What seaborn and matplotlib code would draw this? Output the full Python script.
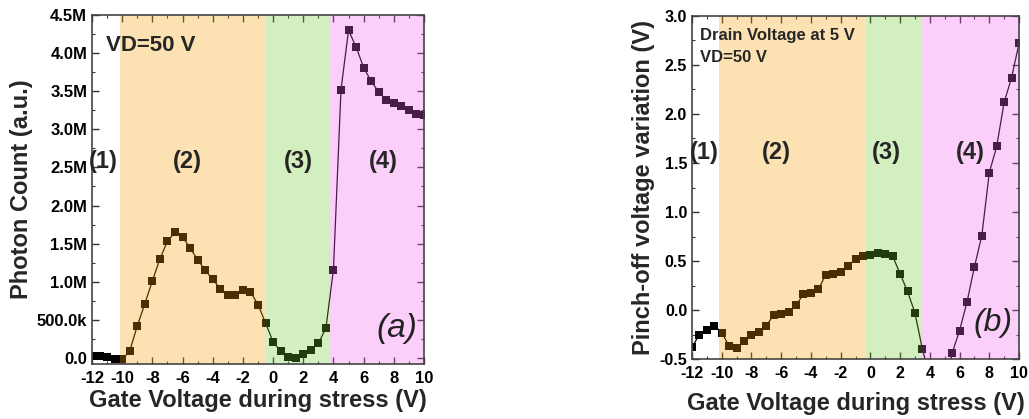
import numpy as np
import pandas as pd
import matplotlib
matplotlib.use('Agg')
import matplotlib.pyplot as plt
import seaborn as sns
from matplotlib.ticker import MultipleLocator, FuncFormatter

# ---------------- data ----------------
gate_v = [-12, -11.5, -11, -10.5, -10, -9.5, -9, -8.5, -8, -7.5, -7, -6.5, -6, -5.5,
          -5, -4.5, -4, -3.5, -3, -2.5, -2, -1.5, -1, -0.5, 0, 0.5, 1, 1.5, 2, 2.5,
          3, 3.5, 4, 4.5, 5, 5.5, 6, 6.5, 7, 7.5, 8, 8.5, 9, 9.5, 10]

photon_m = [0.03, 0.02, 0.01, -0.01, -0.02, 0.09, 0.42, 0.71, 1.01, 1.30, 1.53, 1.65,
            1.59, 1.44, 1.29, 1.15, 1.03, 0.91, 0.83, 0.83, 0.89, 0.87, 0.70, 0.46,
            0.21, 0.09, 0.01, 0.00, 0.05, 0.10, 0.19, 0.39, 1.16, 3.52, 4.30, 4.08,
            3.81, 3.63, 3.49, 3.38, 3.34, 3.30, 3.25, 3.20, 3.19]

pinchoff = [-0.38, -0.25, -0.20, -0.16, -0.23, -0.37, -0.39, -0.32, -0.25, -0.22,
            -0.16, -0.05, -0.04, -0.02, 0.05, 0.16, 0.17, 0.21, 0.36, 0.37, 0.39,
            0.45, 0.52, 0.55, 0.56, 0.58, 0.57, 0.55, 0.37, 0.19, -0.03, -0.40,
            -0.68, -0.90, -0.87, -0.44, -0.21, 0.08, 0.44, 0.76, 1.40, 1.67, 2.12,
            2.37, 2.72]

region_labels = ['(1)', '(2)', '(3)', '(4)']
region_colors = ['#f8a200', '#73ca2d', '#f562ee']
bounds_a = [-10.15, -0.5, 3.7]
bounds_b = [-10.2, -0.3, 3.5]

df_a = pd.DataFrame({'V': gate_v, 'count': np.array(photon_m) * 1e6})
df_b = pd.DataFrame({'V': gate_v, 'dV': pinchoff})

# ---------------- style ----------------
sns.set_theme(style='ticks')
plt.rcParams['font.family'] = ['Liberation Sans', 'DejaVu Sans']
plt.rcParams['font.weight'] = 'bold'
plt.rcParams['axes.labelweight'] = 'bold'
plt.rcParams['axes.unicode_minus'] = False

fig = plt.figure(figsize=(10.29, 4.19), dpi=100)
ax1 = fig.add_axes([92/1029, 1 - 364/419, (424-92)/1029, (364-15)/419])
ax2 = fig.add_axes([692/1029, 1 - 359/419, (1019-692)/1029, (359-16)/419])


def shade(ax, bounds, xmax):
    edges = list(bounds) + [xmax]
    for i, c in enumerate(region_colors):
        ax.axvspan(edges[i], edges[i+1], color=c, alpha=0.3, lw=0, zorder=2.2)


def style_axes(ax, size):
    ax.tick_params(which='both', direction='in', top=True, right=True,
                   colors='#333333', labelcolor='black', labelsize=size)
    ax.tick_params(which='major', length=5, width=1)
    ax.tick_params(which='minor', length=2.5, width=0.8)
    ax.tick_params(axis='x', which='major', pad=5)
    for s in ax.spines.values():
        s.set_color('#444444')
        s.set_linewidth(1.2)
    for lab in ax.get_xticklabels() + ax.get_yticklabels():
        lab.set_fontweight('bold')


# ---- panel (a) ----
sns.lineplot(data=df_a, x='V', y='count', ax=ax1, color='black', lw=0.9,
             marker='s', markersize=5.5, markeredgewidth=0, zorder=2)
shade(ax1, bounds_a, 10)
ax1.set_xlim(-12, 10)
ax1.set_ylim(-0.08e6, 4.5e6)
ax1.xaxis.set_major_locator(MultipleLocator(2))
ax1.xaxis.set_minor_locator(MultipleLocator(1))
ax1.yaxis.set_major_locator(MultipleLocator(0.5e6))
ax1.yaxis.set_minor_locator(MultipleLocator(0.25e6))


def fmt_count(v, pos):
    if abs(v) < 1:
        return '0.0'
    if abs(v) < 1e6:
        return f'{v/1e3:.1f}k'
    return f'{v/1e6:.1f}M'


ax1.yaxis.set_major_formatter(FuncFormatter(fmt_count))
ax1.set_xlabel('Gate Voltage during stress (V)', fontsize=17, fontweight='bold', labelpad=2)
ax1.set_ylabel('Photon Count (a.u.)', fontsize=17, fontweight='bold', labelpad=3)
style_axes(ax1, 12)
for xv, lab in zip([-11.25, -5.7, 1.65, 7.3], region_labels):
    ax1.text(xv, 2.58e6, lab, ha='center', va='center', fontsize=17, fontweight='bold', zorder=5)
ax1.text(-11.05, 4.1e6, 'VD=50 V', ha='left', va='center', fontsize=16, fontweight='bold', zorder=5)
ax1.text(8.2, 0.38e6, '(a)', ha='center', va='center', fontsize=24, fontstyle='italic',
         fontweight='normal', color='#222222', zorder=5)

# ---- panel (b) ----
sns.lineplot(data=df_b, x='V', y='dV', ax=ax2, color='black', lw=0.9,
             marker='s', markersize=5.5, markeredgewidth=0, zorder=2)
shade(ax2, bounds_b, 10)
ax2.set_xlim(-12, 10)
ax2.set_ylim(-0.5, 3.0)
ax2.xaxis.set_major_locator(MultipleLocator(2))
ax2.xaxis.set_minor_locator(MultipleLocator(1))
ax2.yaxis.set_major_locator(MultipleLocator(0.5))
ax2.yaxis.set_minor_locator(MultipleLocator(0.25))
ax2.yaxis.set_major_formatter(FuncFormatter(lambda v, p: f'{v:.1f}'))
ax2.set_xlabel('Gate Voltage during stress (V)', fontsize=17, fontweight='bold', labelpad=8)
ax2.set_ylabel('Pinch-off voltage variation (V)', fontsize=17, fontweight='bold', labelpad=3)
style_axes(ax2, 11.5)
for xv, lab in zip([-11.2, -6.35, 1.05, 6.75], region_labels):
    ax2.text(xv, 1.61, lab, ha='center', va='center', fontsize=17, fontweight='bold', zorder=5)
ax2.text(-11.45, 2.80, 'Drain Voltage at 5 V', ha='left', va='center', fontsize=12,
         fontweight='bold', zorder=5)
ax2.text(-11.45, 2.58, 'VD=50 V', ha='left', va='center', fontsize=12,
         fontweight='bold', zorder=5)
ax2.text(8.25, -0.13, '(b)', ha='center', va='center', fontsize=23, fontstyle='italic',
         fontweight='normal', color='#222222', zorder=5)

fig.savefig('out.png', dpi=100)
